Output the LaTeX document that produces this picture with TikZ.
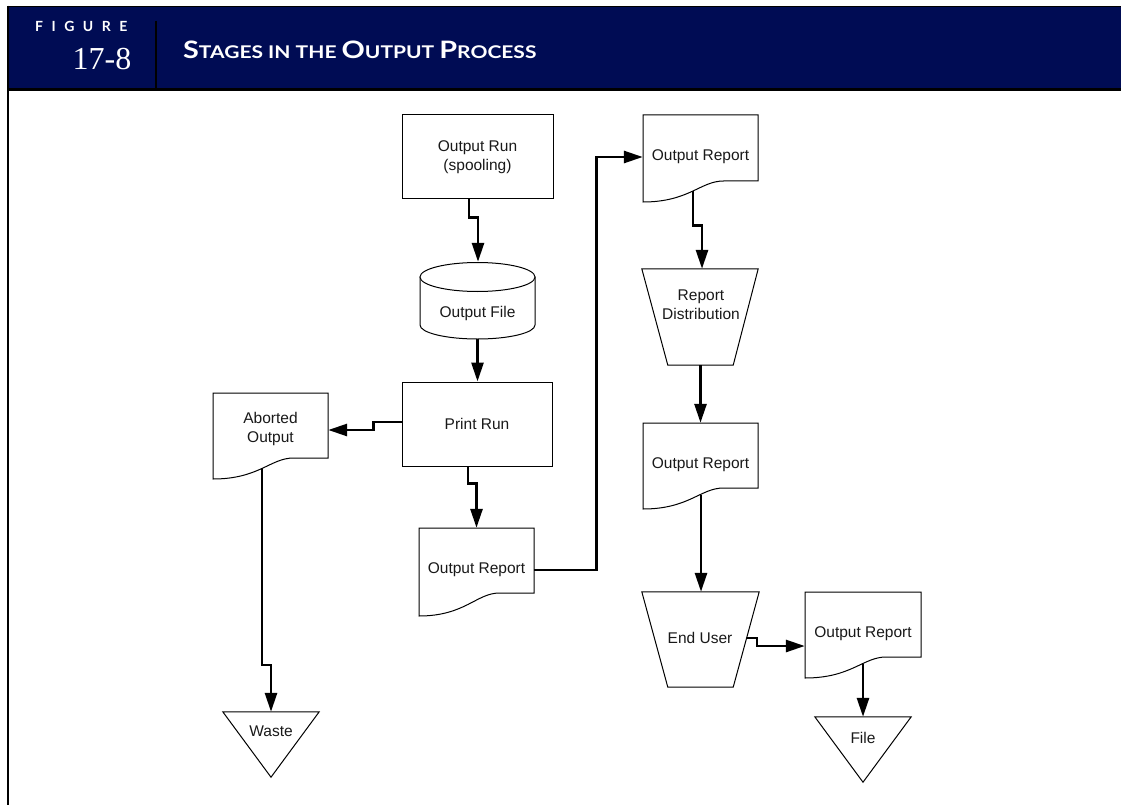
\documentclass[tikz,border=0pt]{standalone}
\usepackage{fontspec}
\setmainfont{Liberation Sans}
\newfontfamily\serifA{Liberation Serif}
\newfontfamily\hdfont{Lato}
\usetikzlibrary{arrows.meta,calc}
\definecolor{navy}{RGB}{0,12,84}
\definecolor{inkc}{RGB}{25,25,25}
\newcommand\docnode[8]{%
  \path[draw=black, line width=1pt, fill=white] (#2,#3) -- (#4,#3) -- (#4,#5) -- ({#2+0.7*(#4-#2)},#5)
    .. controls ({#2+0.5*(#4-#2)},#5) and ({#2+0.4*(#4-#2)},#6) .. (#2,#6) -- cycle;
  \node[inner sep=0, minimum width={(#4-#2)*1pt}, minimum height={(#6-#3)*1pt}] (#1) at ({(#2+#4)/2},{(#3+#6)/2}) {};
  \node[lbl] (#1t) at ({(#2+#4)/2},#8) {#7};
}
\begin{document}
\begin{tikzpicture}[x=1pt,y=-1pt,
  lbl/.style={font=\fontsize{15.5}{19}\selectfont, text=inkc, align=center, inner sep=0},
  procbox/.style={draw=black, line width=1pt, fill=white, inner sep=0, lbl},
  blank/.style={inner sep=0, draw=none},
  shapeline/.style={draw=black, line width=1pt, fill=white, line join=miter},
  flow/.style={line width=2.8pt, line join=miter, -{Triangle[length=19pt,width=12pt]}},
]
\useasboundingbox (0,0) rectangle (1121,805);
\fill[white] (0,0) rectangle (1121,805);

% header
\fill[navy] (8,6) rectangle (1121,90);
\draw[line width=1.8pt] (7,6.5) -- (1121,6.5);
\draw[line width=3pt] (7,89.5) -- (1121,89.5);
\draw[line width=2.5pt] (8.2,5.6) -- (8.2,805);
\draw[line width=2.5pt] (156,21) -- (156,89);
\node[anchor=base west, inner sep=0, text=white, font=\hdfont\bfseries\fontsize{14}{14}\selectfont] (figlbl) at (35,32)
  {F\kern8.5pt I\kern8.5pt G\kern8.5pt U\kern8.5pt R\kern8.5pt E};
\node[anchor=base east, inner sep=0, text=white, font=\serifA\fontsize{32}{32}\selectfont] (fignum) at (131.5,70) {17-8};
\node[anchor=base west, inner sep=0, text=white, font=\hdfont\bfseries] (title) at (183,59)
  {\scalebox{1.2}[1]{\fontsize{24}{24}\selectfont S\fontsize{17.5}{17.5}\selectfont TAGES IN THE \fontsize{24}{24}\selectfont O\fontsize{17.5}{17.5}\selectfont UTPUT \fontsize{24}{24}\selectfont P\fontsize{17.5}{17.5}\selectfont ROCESS}};

% boxes
\node[procbox, minimum width=151pt, minimum height=84pt] (orun) at (477.5,157) {Output Run\\(spooling)};
\node[procbox, minimum width=150pt, minimum height=84pt] (prun) at (477,424) {Print Run};

% cylinder
\node[blank, minimum width=115pt, minimum height=77pt] (ofile) at (477.5,300.5) {};
\path[shapeline] (420,277) -- (420,325) arc[start angle=180, end angle=0, x radius=57.5, y radius=14] -- (535,277) -- cycle;
\path[shapeline] (477.5,277) ellipse[x radius=57.5, y radius=14.5];
\node[lbl] (ofilet) at (477.5,313) {Output File};

% documents
\docnode{ab}{213}{393}{328}{458}{479}{Aborted\\Output}{428.5}
\docnode{ra}{419}{528}{534}{593}{616}{Output Report}{570}
\docnode{rb}{643}{115}{758}{181}{202}{Output Report}{157}
\docnode{rc}{643}{423}{758}{488}{509}{Output Report}{465}
\docnode{rd}{805}{592}{921}{657}{678}{Output Report}{634}

% manual operations (trapezoids)
\node[blank, minimum width=116pt, minimum height=96pt] (dist) at (700,317) {};
\path[shapeline] (dist.north west) -- (dist.north east) -- ([xshift=-25pt]dist.south east) -- ([xshift=26pt]dist.south west) -- cycle;
\node[lbl] (distt) at (701,305) {Report\\Distribution};

\node[blank, minimum width=117pt, minimum height=95pt] (eu) at (700.5,639.5) {};
\path[shapeline] (eu.north west) -- (eu.north east) -- ([xshift=-26pt]eu.south east) -- ([xshift=26pt]eu.south west) -- cycle;
\node[lbl] (eut) at (700,638) {End User};

% storage triangles
\node[blank, minimum width=96pt, minimum height=65pt] (waste) at (271,744.5) {};
\path[shapeline] (waste.north west) -- (waste.north east) -- (waste.south) -- cycle;
\node[lbl] (wastet) at (271,731) {Waste};

\node[blank, minimum width=96pt, minimum height=65pt] (file) at (863,749.5) {};
\path[shapeline] (file.north west) -- (file.north east) -- (file.south) -- cycle;
\node[lbl] (filet) at (863,738) {File};

% exit points on document waves
\coordinate (abx) at (262,468);
\coordinate (rbx) at (693,191.5);
\coordinate (rcx) at (701,494.5);
\coordinate (rdx) at (863,663.5);
\coordinate (eux) at (746.5,638);

% connectors
\draw[flow] ([xshift=-8.5pt]orun.south) -- ++(0,18) -| ([xshift=0.5pt]ofile.north);
\draw[flow] (ofile.south) -- (ofile.south |- prun.north);
\draw[flow] ([yshift=2pt]prun.west) -- ++(-28,0) |- ([yshift=6pt]ab.east);
\draw[flow] ([xshift=-9pt]prun.south) -- ++(0,17) -| (ra.north);
\draw[flow] ([yshift=2pt]ra.east) -- ++(62,0) |- ([yshift=1.5pt]rb.west);
\draw[flow] (rbx) -- ++(0,34) -| ([xshift=2pt]dist.north);
\draw[flow] (dist.south -| rc.north) -- (rc.north);
\draw[flow] (rcx) -- (rcx |- eu.north);
\draw[flow] (eux) -- ++(10.5,0) |- ([yshift=-11pt]rd.west);
\draw[flow] (rdx) -- (rdx |- file.north);
\draw[flow] (abx) -- ++(0,197) -| (waste.north);
\end{tikzpicture}
\end{document}
